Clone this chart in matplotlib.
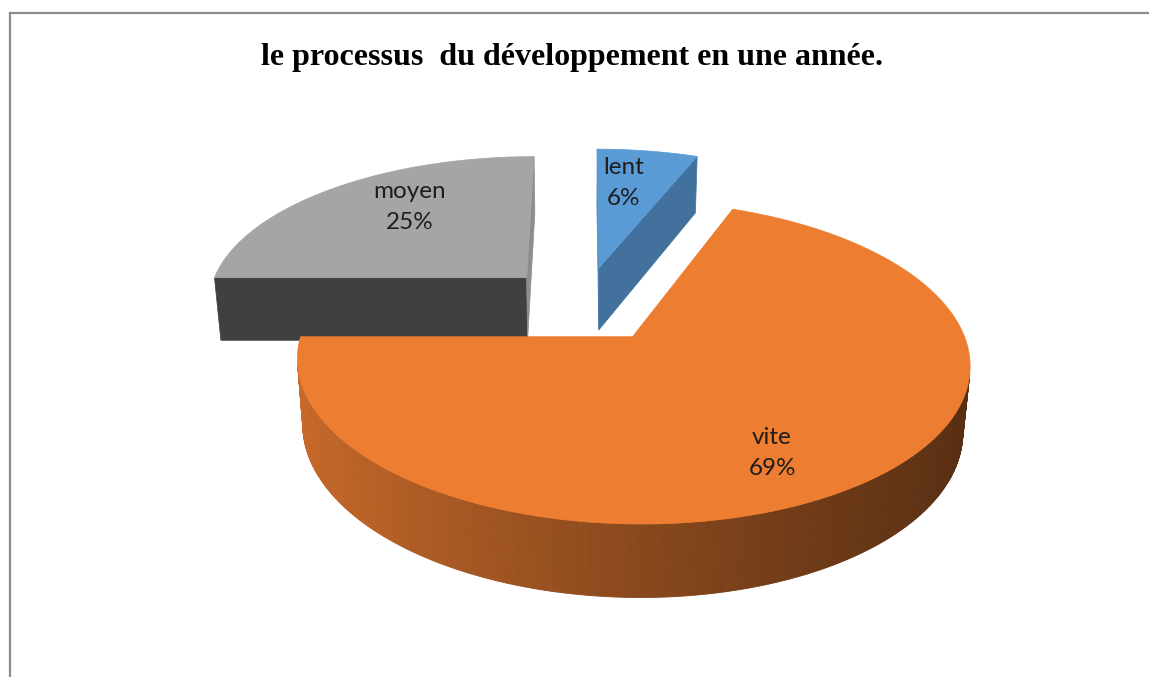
import numpy as np
import matplotlib
matplotlib.use("Agg")
import matplotlib.pyplot as plt
from matplotlib.patches import Polygon
from matplotlib.lines import Line2D

# ---------------- data ----------------
title = "le processus  du développement en une année."
categories = ["lent", "vite", "moyen"]
values = [6, 69, 25]
top_colors = ["#5B9BD5", "#ED7D31", "#A5A5A5"]
start_face_colors = ["#4F87BA", "#A85A24", "#404040"]
end_face_colors = ["#41719C", "#A85A24", "#8E8E8E"]

# ---------------- layout ----------------
W, H = 1149, 677
fig = plt.figure(figsize=(W / 100, H / 100), dpi=100)
ax = fig.add_axes([0, 0, 1, 1])
ax.set_xlim(0, W)
ax.set_ylim(H, 0)
ax.axis("off")

# border lines (chart area frame)
ax.add_line(Line2D([9.5, 9.5], [13, H], color="#8C8C8C", lw=1.6))
ax.add_line(Line2D([9.5, W], [13, 13], color="#8C8C8C", lw=1.6))

# 3D projection parameters
CX, CY = 584, 304
FOC = 1852.0
DIST = 5.77
PHI = np.radians(27.3)
HGT = 0.228
EXPL = 0.26
S, C = np.sin(PHI), np.cos(PHI)
CAM = np.array([0.0, -DIST * C, DIST * S])


def proj(X, Y, Z):
    X = np.asarray(X, float)
    Y = np.asarray(Y, float)
    Z = np.asarray(Z, float)
    v = Y * S + Z * C
    w = DIST + Y * C - Z * S
    return CX + FOC * X / w, CY - FOC * v / w


def shade(hexcol, f):
    r, g, b = matplotlib.colors.to_rgb(hexcol)
    return (r * f, g * f, b * f)


total = float(sum(values))
angles = np.cumsum([0] + values) / total * 360.0

slices = []
for i, (cat, val) in enumerate(zip(categories, values)):
    a0, a1 = np.radians(angles[i]), np.radians(angles[i + 1])
    m = 0.5 * (a0 + a1)
    ox, oy = EXPL * np.sin(m), EXPL * np.cos(m)
    slices.append((oy, i, a0, a1, ox))

# draw back to front
slices.sort(key=lambda t: -t[0])
for oy, i, a0, a1, ox in slices:
    n = max(8, int(np.degrees(a1 - a0) * 2))
    th = np.linspace(a0, a1, n + 1)
    ax_x = ox + np.sin(th)
    ax_y = oy + np.cos(th)
    # outer curved side
    for k in range(n):
        tm = 0.5 * (th[k] + th[k + 1])
        P = np.array([ox + np.sin(tm), oy + np.cos(tm), -HGT / 2])
        nrm = np.array([np.sin(tm), np.cos(tm), 0.0])
        if np.dot(nrm, CAM - P) <= 0:
            continue
        xs = [ax_x[k], ax_x[k + 1], ax_x[k + 1], ax_x[k]]
        ys = [ax_y[k], ax_y[k + 1], ax_y[k + 1], ax_y[k]]
        zs = [0, 0, -HGT, -HGT]
        sx, sy = proj(xs, ys, zs)
        frac = np.clip((np.mean(sx) - 300) / 670.0, 0, 1)
        col = shade(top_colors[i], 0.84 - 0.47 * frac ** 0.85)
        ax.add_patch(Polygon(np.column_stack([sx, sy]), closed=True,
                             facecolor=col, edgecolor=col, lw=0.6))
    # radial faces
    for ang, sign, fc in ((a0, -1, start_face_colors[i]), (a1, 1, end_face_colors[i])):
        nrm = sign * np.array([np.cos(ang), -np.sin(ang), 0.0])
        P = np.array([ox, oy, -HGT / 2])
        if np.dot(nrm, CAM - P) <= 1e-3:
            continue
        xs = [ox, ox + np.sin(ang), ox + np.sin(ang), ox]
        ys = [oy, oy + np.cos(ang), oy + np.cos(ang), oy]
        zs = [0, 0, -HGT, -HGT]
        sx, sy = proj(xs, ys, zs)
        ax.add_patch(Polygon(np.column_stack([sx, sy]), closed=True,
                             facecolor=fc, edgecolor=fc, lw=0.5))
    # top face
    sx, sy = proj(np.r_[ox, ax_x], np.r_[oy, ax_y], np.zeros(n + 2))
    ax.add_patch(Polygon(np.column_stack([sx, sy]), closed=True,
                         facecolor=top_colors[i], edgecolor=top_colors[i], lw=0.5))

# data labels
label_pos = [(624, 183), (772, 453), (410, 207)]
for i, (cat, val) in enumerate(zip(categories, values)):
    pct = round(val / total * 100)
    ax.text(label_pos[i][0], label_pos[i][1], f"{cat}\n{pct}%", ha="center", va="center",
            fontsize=17.5, family="Lato", color="#1E1E1E", linespacing=1.55)

ax.text(572, 58, title, ha="center", va="center", fontsize=23,
        family="Liberation Serif", fontweight="bold", color="black")

fig.savefig("out.png", dpi=100, facecolor="white")
